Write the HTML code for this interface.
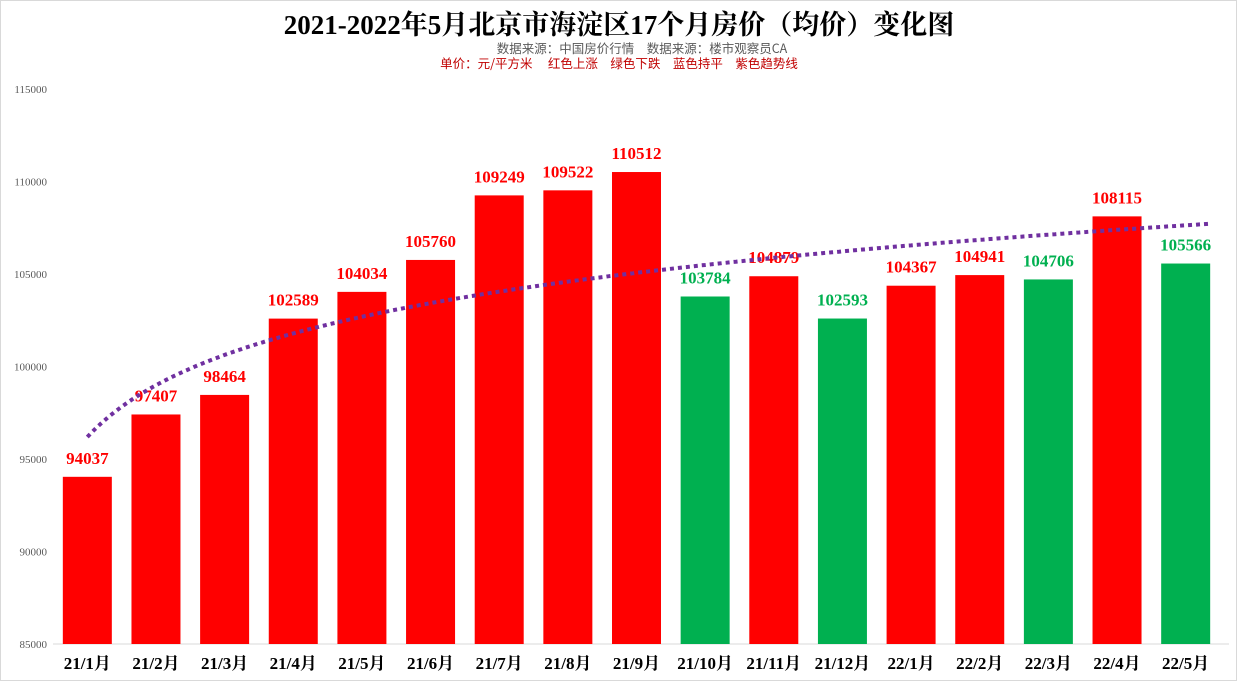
<!DOCTYPE html>
<html><head><meta charset="utf-8"><style>
html,body{margin:0;padding:0;background:#fff}
#wrap{position:relative;width:1235px;height:679px;border:1px solid #d9d9d9;overflow:hidden}
svg text{font-family:"Liberation Serif","Noto Serif CJK SC","Noto Sans CJK SC",serif}
</style></head><body>
<div id="wrap">
<svg id="chart" width="1237" height="681">
<text x="618" y="33" text-anchor="middle" font-size="27" font-weight="bold" fill="#000">2021-2022年5月北京市海淀区17个月房价（均价）变化图</text>
<text x="641" y="52" text-anchor="middle" font-size="12.5" fill="#595959" style="font-family:'Noto Sans CJK SC',sans-serif">数据来源：中国房价行情　数据来源：楼市观察员CA</text>
<text x="618" y="67" text-anchor="middle" font-size="12.5" fill="#c00000" style="font-family:'Noto Sans CJK SC',sans-serif">单价：元/平方米　 红色上涨　绿色下跌　蓝色持平　紫色趋势线</text>
<g id="axes"></g><g id="bars"></g><g id="trend"></g>
</svg></div>
<script>
const categories=["21/1月","21/2月","21/3月","21/4月","21/5月","21/6月","21/7月","21/8月","21/9月","21/10月","21/11月","21/12月","22/1月","22/2月","22/3月","22/4月","22/5月"];
const values=[94037,97407,98464,102589,104034,105760,109249,109522,110512,103784,104879,102593,104367,104941,104706,108115,105566];
const yTicks=[85000,90000,95000,100000,105000,110000,115000];
const NS="http://www.w3.org/2000/svg";
const x0=52,x1=1219,yTop=88,yBot=643,yMin=85000,yMax=115000;
const bw=(x1-x0)/categories.length;
const Y=v=>yBot-(v-yMin)/(yMax-yMin)*(yBot-yTop);
const X=i=>x0+bw*(i+0.5);
function mk(t,a,p){const e=document.createElementNS(NS,t);for(const k in a)e.setAttribute(k,a[k]);p.appendChild(e);return e;}
const axes=document.getElementById('axes'),bars=document.getElementById('bars'),trend=document.getElementById('trend');
yTicks.forEach(v=>{const t=mk('text',{x:46,y:Y(v)+4,'text-anchor':'end','font-size':'11',fill:'#595959'},axes);t.textContent=v;

});
const ax=mk('line',{x1:x0,x2:1228,y1:yBot,y2:yBot,stroke:'#d9d9d9','stroke-width':1},axes);


values.forEach((v,i)=>{
 const col=(i===0||v>values[i-1])?'#ff0000':(v<values[i-1]?'#00b050':'#0070c0');
 const r=mk('rect',{x:X(i)-24.5,y:Y(v),width:49,height:yBot-Y(v),fill:col},bars);
 
 
 const l=mk('text',{x:X(i),y:Y(v)-13,'text-anchor':'middle','font-size':'17','font-weight':'bold',fill:col},bars);l.textContent=v;
 
 
 const c=mk('text',{x:X(i),y:668,'text-anchor':'middle','font-size':'17','font-weight':'bold',fill:'#000'},bars);c.textContent=categories[i];
 
 
});
const n=values.length;let sx=0,sy=0,sxx=0,sxy=0;
values.forEach((v,i)=>{const l=Math.log(i+1);sx+=l;sy+=v;sxx+=l*l;sxy+=l*v;});
const b=(n*sxy-sx*sy)/(n*sxx-sx*sx),a=(sy-b*sx)/n;
let d='';for(let t=1;t<=n+0.4;t+=0.05){d+=(d?'L':'M')+(x0+bw*(t-0.5)).toFixed(1)+','+Y(a+b*Math.log(t)).toFixed(1);}
const p=mk('path',{d:d,fill:'none',stroke:'#7030a0','stroke-width':4,'stroke-dasharray':'4 4'},trend);


</script>
</body></html>
